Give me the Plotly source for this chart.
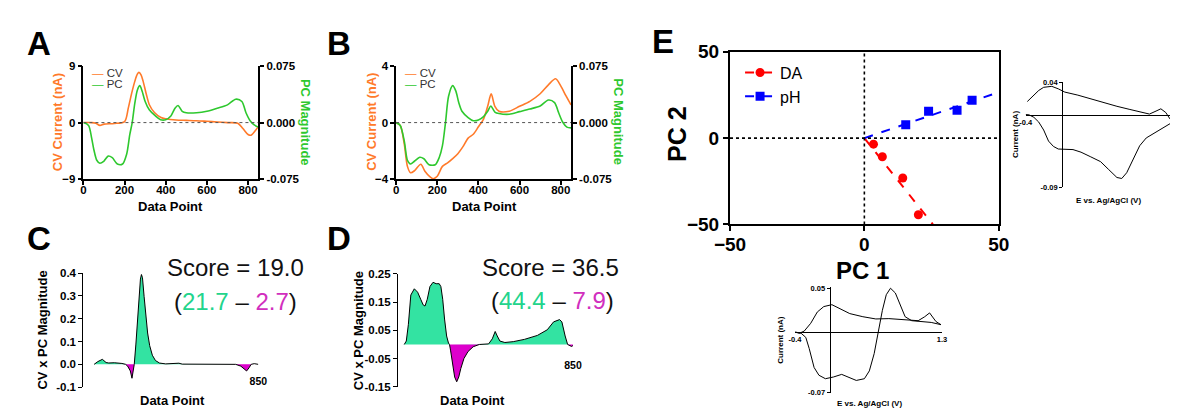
import plotly.graph_objects as go

W, H = 1181, 420
FONT = "Liberation Sans, Arial, sans-serif"
ORANGE = "#FF7A2A"
GREEN = "#2EC82E"
MINT = "#33E3A2"
MAGENTA = "#DD00CC"
SCORE_GREEN = "#22D48C"
SCORE_MAG = "#D12FBE"

# ---------------- Panel A : CV and PC vs data point ----------------
a_cv_x = [0, 40, 60, 80, 100, 150, 200, 218, 234, 250, 262, 270, 280, 290, 305, 321, 345, 377, 400,
          450, 500, 550, 600, 650, 700, 750, 775, 800, 815, 835, 850]
a_cv_y = [0, 0, -0.1, -0.45, -0.25, -0.15, 0.15, 2.3, 4.6, 6.6, 7.7, 8.0, 7.6, 6.6, 4.6, 2.8, 1.6, 0.8, 0.6,
          0.4, 0.35, 0.3, 0.2, 0.1, 0.0, -0.1, -0.95, -1.9, -2.0, -1.3, -0.6]
a_pc_x = [0, 25, 40, 50, 65, 80, 100, 120, 140, 165, 190, 210, 225, 237, 250, 262, 274, 285, 300, 320,
          350, 375, 400, 425, 445, 460, 480, 500, 550, 600, 650, 700, 740, 770, 790, 810, 830, 850]
a_pc_y = [0, -0.0038, -0.0206, -0.035, -0.050, -0.054, -0.051, -0.0445, -0.0466, -0.055, -0.055, -0.042,
          -0.0164, 0.0, 0.026, 0.043, 0.049, 0.042, 0.028, 0.017, 0.0088, 0.0038, 0.0038, 0.0088, 0.019,
          0.0227, 0.015, 0.013, 0.013, 0.015, 0.019, 0.0235, 0.031, 0.028, 0.013, 0.0025, -0.003, -0.006]

# ---------------- Panel B ----------------
b_cv_x = [0, 20, 40, 55, 70, 90, 120, 140, 165, 180, 200, 225, 250, 275, 300, 325, 350, 375, 400, 425,
          445, 462, 480, 500, 550, 600, 650, 700, 740, 775, 800, 825, 850]
b_cv_y = [0, -0.2, -1.55, -3.1, -3.55, -3.4, -2.95, -3.45, -3.85, -3.97, -3.8, -3.1, -2.85, -2.55, -2.2,
          -1.7, -1.1, -0.83, -0.3, 0.25, 1.15, 2.04, 1.15, 0.8, 0.8, 1.15, 1.5, 2.04, 2.67, 3.1, 2.6, 1.9, 1.25]
b_pc_x = [0, 20, 40, 55, 70, 90, 115, 135, 160, 190, 210, 225, 240, 255, 275, 290, 305, 320, 350, 375,
          400, 425, 445, 460, 480, 500, 550, 600, 650, 700, 740, 770, 790, 810, 830, 850]
b_pc_y = [0, -0.0038, -0.025, -0.050, -0.055, -0.051, -0.046, -0.048, -0.056, -0.056, -0.046, -0.031,
          0.0, 0.035, 0.049, 0.042, 0.026, 0.015, 0.0067, 0.0025, 0.0034, 0.008, 0.015, 0.022, 0.014,
          0.012, 0.011, 0.0145, 0.018, 0.022, 0.030, 0.0265, 0.013, 0.0004, -0.006, -0.007]

# ---------------- Panel C : CV x PC ----------------
c_x = [52, 70, 92, 110, 123, 150, 187, 205, 215, 228, 236, 242, 247, 255, 262, 270, 277, 282, 287, 295,
       303, 312, 322, 335, 350, 370, 400, 450, 464, 480, 550, 650, 740, 765, 780, 793, 805, 815, 830, 843, 850]
c_y = [0, 0.012, 0.022, 0.008, 0.006, 0.007, 0.004, 0, -0.008, -0.029, -0.061, -0.029, 0, 0.089, 0.186,
       0.297, 0.374, 0.394, 0.38, 0.297, 0.214, 0.1375, 0.082, 0.040, 0.0167, 0.0056, 0.002, 0.002, 0.005,
       0.001, 0.001, 0.0, 0, -0.008, -0.02, -0.029, -0.015, 0, 0.003, 0.003, 0]
c_score = "Score = 19.0"
c_pos, c_neg = "21.7", "2.7"

# ---------------- Panel D ----------------
d_x = [30, 40, 50, 62, 79, 95, 110, 122, 131, 142, 155, 170, 185, 200, 208, 217, 226, 236, 245, 250,
       255, 265, 275, 285, 295, 305, 320, 340, 365, 395, 420, 440, 458, 472, 482, 495, 519, 560, 614, 677,
       725, 756, 785, 796, 812, 824, 843, 850]
d_y = [0, 0.012, 0.07, 0.175, 0.197, 0.185, 0.160, 0.14, 0.136, 0.16, 0.205, 0.22, 0.215, 0.215, 0.205,
       0.16, 0.09, 0.03, 0.005, 0, -0.02, -0.07, -0.115, -0.132, -0.115, -0.085, -0.05, -0.025, -0.008, 0,
       0.002, 0.002, 0.02, 0.046, 0.03, 0.012, 0.007, 0.01, 0.018, 0.032, 0.052, 0.08, 0.088, 0.08, 0.03,
       0, -0.007, -0.004]
d_score = "Score = 36.5"
d_pos, d_neg = "44.4", "7.9"

# ---------------- Panel E : PC scores ----------------
da_x = [3.4, 6.7, 14.3, 20.1]
da_y = [-3.5, -10.8, -23.1, -44.4]
ph_x = [15.4, 23.9, 34.5, 40.1]
ph_y = [7.7, 15.6, 16.1, 22.0]
da_fit_x = [0, 25.5]
da_fit_y = [0, -50]
ph_fit_x = [0, 50]
ph_fit_y = [0, 26.6]

# PC2 loading (top-right inset): potential (V), current (nA)
pc2_v = [-0.382, -0.328, -0.257, -0.203, -0.114, -0.043, 0.028, 0.171, 0.313, 0.456, 0.599, 0.741, 0.883,
         0.955, 1.027, 1.08, 1.134, 1.18, None,
         1.18, 1.097, 1.027, 0.92, 0.848, 0.777, 0.706, 0.652, 0.599, 0.509, 0.42, 0.313, 0.206, 0.118,
         0.028, -0.043, -0.096, -0.15, -0.203, -0.257, -0.31, -0.364, -0.4]
pc2_i = [0.0161, 0.022, 0.0298, 0.0337, 0.0349, 0.0318, 0.0278, 0.024, 0.0193, 0.0142, 0.0102, 0.0063,
         0.0025, 0.0006, 0.0043, 0.0071, 0.0025, -0.0054, None,
         -0.0113, -0.0171, -0.0218, -0.0289, -0.0386, -0.0562, -0.0719, -0.079, -0.0778, -0.068, -0.0582,
         -0.0523, -0.0465, -0.0433, -0.0433, -0.0426, -0.0394, -0.0328, -0.0191, -0.0093, -0.0034, -0.0003, 0]

# PC1 loading (bottom inset)
pc1_v = [-0.40, -0.33, -0.276, -0.237, -0.18, -0.124, -0.049, 0.045, 0.139, 0.233, 0.308, 0.402, 0.459,
         0.515, 0.565, 0.61, 0.655, 0.704, 0.76, 0.817, 0.873, 0.949, 1.062, 1.175, 1.288,
         1.23, 1.156, 1.10, 1.024, 0.873, 0.685, 0.534, 0.384, 0.233, 0.12, 0.026, -0.068, -0.143, -0.219,
         -0.294, -0.35, -0.39]
pc1_i = [0, -0.0015, -0.0063, -0.019, -0.041, -0.050, -0.054, -0.052, -0.049, -0.053, -0.056, -0.054,
         -0.045, -0.025, 0, 0.025, 0.043, 0.0505, 0.045, 0.030, 0.0176, 0.013, 0.012, 0.011, 0.0084,
         0.012, 0.022, 0.0176, 0.013, 0.0139, 0.0154, 0.015, 0.0176, 0.0212, 0.0267, 0.0315, 0.0293, 0.023,
         0.010, 0.001, -0.0015, -0.0005]


def fx(p):
    return p / W


def fy(p):
    return (H - p) / H


fig = go.Figure()

# Panel A / B lines
for (xs, ys, col, xa, ya) in [
    (a_cv_x, a_cv_y, ORANGE, "x", "y"),
    (a_pc_x, a_pc_y, GREEN, "x", "y2"),
    (b_cv_x, b_cv_y, ORANGE, "x2", "y3"),
    (b_pc_x, b_pc_y, GREEN, "x2", "y4"),
]:
    fig.add_trace(go.Scatter(x=xs, y=ys, mode="lines", xaxis=xa, yaxis=ya, showlegend=False,
                             line=dict(color=col, width=1.6, shape="spline", smoothing=0.8),
                             hoverinfo="skip"))

# Panel C / D filled areas
for (xs, ys, xa, ya) in [(c_x, c_y, "x3", "y5"), (d_x, d_y, "x4", "y6")]:
    pos = [max(v, 0) for v in ys]
    neg = [min(v, 0) for v in ys]
    fig.add_trace(go.Scatter(x=xs, y=pos, mode="lines", fill="tozeroy", fillcolor=MINT,
                             line=dict(width=0, color=MINT), xaxis=xa, yaxis=ya, showlegend=False,
                             hoverinfo="skip"))
    fig.add_trace(go.Scatter(x=xs, y=neg, mode="lines", fill="tozeroy", fillcolor=MAGENTA,
                             line=dict(width=0, color=MAGENTA), xaxis=xa, yaxis=ya, showlegend=False,
                             hoverinfo="skip"))
    fig.add_trace(go.Scatter(x=xs, y=ys, mode="lines", line=dict(color="black", width=1),
                             xaxis=xa, yaxis=ya, showlegend=False, hoverinfo="skip"))

# Panel E
fig.add_trace(go.Scatter(x=da_fit_x, y=da_fit_y, mode="lines", line=dict(color="red", width=2, dash="dash"),
                         xaxis="x5", yaxis="y7", showlegend=False))
fig.add_trace(go.Scatter(x=ph_fit_x, y=ph_fit_y, mode="lines", line=dict(color="blue", width=2, dash="dash"),
                         xaxis="x5", yaxis="y7", showlegend=False))
fig.add_trace(go.Scatter(x=da_x, y=da_y, mode="markers", marker=dict(color="red", size=9, symbol="circle"),
                         xaxis="x5", yaxis="y7", showlegend=False))
fig.add_trace(go.Scatter(x=ph_x, y=ph_y, mode="markers", marker=dict(color="blue", size=9, symbol="square"),
                         xaxis="x5", yaxis="y7", showlegend=False))
fig.add_trace(go.Scatter(x=[None], y=[None], mode="lines+markers", name="DA",
                         line=dict(color="red", width=2, dash="dash"),
                         marker=dict(color="red", size=9, symbol="circle"), xaxis="x5", yaxis="y7"))
fig.add_trace(go.Scatter(x=[None], y=[None], mode="lines+markers", name="pH",
                         line=dict(color="blue", width=2, dash="dash"),
                         marker=dict(color="blue", size=9, symbol="square"), xaxis="x5", yaxis="y7"))

# Insets
fig.add_trace(go.Scatter(x=pc2_v, y=pc2_i, mode="lines", line=dict(color="black", width=1),
                         connectgaps=False, xaxis="x6", yaxis="y8", showlegend=False))
fig.add_trace(go.Scatter(x=pc1_v, y=pc1_i, mode="lines", line=dict(color="black", width=1),
                         xaxis="x7", yaxis="y9", showlegend=False))


def tf(size, weight="bold"):
    return dict(family=FONT, size=size, color="black", weight=weight)


base = dict(showgrid=False, zeroline=False, showline=True, linecolor="black", linewidth=1.5,
            ticks="outside", ticklen=4, tickwidth=1.5, tickcolor="black", tickfont=tf(11.5))

# domains
A_X = [fx(69), fx(248)]
B_X = [fx(389), fx(568)]
AB_Y = [fy(178), fy(59)]
C_X = [fx(69), fx(248)]
C_Y = [fy(397), fy(277)]
D_X = [fx(391), fx(570)]
D_Y = [fy(396.7), fy(277.7)]
E_X = [fx(730.7), fx(1005.7)]
E_Y = [fy(225.7), fy(44)]
I2_X = [fx(1033.3), 1.0]
I2_Y = [fy(186.7), fy(76)]
I1_X = [fx(797.3), fx(947.7)]
I1_Y = [fy(402.7), fy(291.5)]

C_R = [-0.1, 0.4]
D_R = [-0.15, 0.25]
I2_XR = [-0.4, 1.18]
I2_YR = [-0.09, 0.04]
I1_XR = [-0.4, 1.3]
I1_YR = [-0.07, 0.052]


def zero_pos(dom, rng):
    return dom[0] + (0 - rng[0]) / (rng[1] - rng[0]) * (dom[1] - dom[0])


layout = dict(
    width=W, height=H, margin=dict(l=0, r=0, t=0, b=0),
    paper_bgcolor="white", plot_bgcolor="white",
    font=dict(family=FONT, color="black"),
    showlegend=True,
    legend=dict(x=fx(741), y=fy(48), xanchor="left", yanchor="top", bgcolor="rgba(0,0,0,0)",
                font=dict(family=FONT, size=16, color="black"), itemwidth=30, tracegroupgap=0),
    # A
    xaxis=dict(base, domain=A_X, range=[0, 850], anchor="y", tickvals=[0, 200, 400, 600, 800],
               ticklabelstandoff=-5),
    yaxis=dict(base, domain=AB_Y, range=[-9, 9], anchor="x", tickvals=[-9, 0, 9]),
    yaxis2=dict(base, overlaying="y", side="right", anchor="x", range=[-0.075, 0.075],
                tickvals=[-0.075, 0, 0.075], ticktext=["-0.075", "0.000", "0.075"]),
    # B
    xaxis2=dict(base, domain=B_X, range=[0, 850], anchor="y3", tickvals=[0, 200, 400, 600, 800],
                ticklabelstandoff=-5),
    yaxis3=dict(base, domain=AB_Y, range=[-4, 4], anchor="x2", tickvals=[-4, 0, 4]),
    yaxis4=dict(base, overlaying="y3", side="right", anchor="x2", range=[-0.075, 0.075],
                tickvals=[-0.075, 0, 0.075], ticktext=["-0.075", "0.000", "0.075"]),
    # C
    xaxis3=dict(base, domain=C_X, range=[0, 850], anchor="free", position=zero_pos(C_Y, C_R),
                showline=False, tickcolor="rgba(0,0,0,0)", ticklen=7, tickvals=[850], ticktext=["850"],
                tickfont=tf(10.5)),
    yaxis5=dict(base, domain=C_Y, range=C_R, anchor="x3", linewidth=1.2, tickwidth=1.2,
                tickvals=[-0.1, 0, 0.1, 0.2, 0.3, 0.4],
                ticktext=["-0.1", "0.0", "0.1", "0.2", "0.3", "0.4"], tickfont=tf(11.5)),
    # D
    xaxis4=dict(base, domain=D_X, range=[0, 850], anchor="free", position=zero_pos(D_Y, D_R),
                showline=False, tickcolor="rgba(0,0,0,0)", ticklen=11, tickvals=[850], ticktext=["850"],
                tickfont=tf(10.5)),
    yaxis6=dict(base, domain=D_Y, range=D_R, anchor="x4", linewidth=1.2, tickwidth=1.2,
                tickvals=[-0.15, -0.05, 0.05, 0.15, 0.25],
                ticktext=["-0.15", "-0.05", "0.05", "0.15", "0.25"], tickfont=tf(11.5)),
    # E
    xaxis5=dict(base, domain=E_X, range=[-50, 50], anchor="y7", tickvals=[-50, 0, 50], mirror=True,
                linewidth=2, tickwidth=2, ticklen=5, tickfont=tf(19), ticklabelstandoff=-3),
    yaxis7=dict(base, domain=E_Y, range=[-50, 50], anchor="x5", tickvals=[-50, 0, 50], mirror=True,
                linewidth=2, tickwidth=2, ticklen=5, tickfont=tf(19)),
    # inset PC2
    xaxis6=dict(base, domain=I2_X, range=I2_XR, anchor="free", position=zero_pos(I2_Y, I2_YR),
                linewidth=1, ticks="", tickvals=[-0.4], ticktext=["-0.4"], tickfont=tf(7.5)),
    yaxis8=dict(base, domain=I2_Y, range=I2_YR, anchor="free", position=zero_pos(I2_X, I2_XR),
                linewidth=1, tickwidth=1, ticklen=3, tickvals=[-0.09, 0.04], ticktext=["-0.09", "0.04"],
                tickfont=tf(7.5)),
    # inset PC1
    xaxis7=dict(base, domain=I1_X, range=I1_XR, anchor="free", position=zero_pos(I1_Y, I1_YR),
                linewidth=1, ticks="", tickvals=[-0.4, 1.3], ticktext=["-0.4", "1.3"], tickfont=tf(7.5)),
    yaxis9=dict(base, domain=I1_Y, range=I1_YR, anchor="free", position=zero_pos(I1_X, I1_XR),
                linewidth=1, tickwidth=1, ticklen=3, tickvals=[-0.07, 0.05], ticktext=["-0.07", "0.05"],
                tickfont=tf(7.5)),
)

shapes = [
    dict(type="line", xref="x", yref="y", x0=0, x1=850, y0=0, y1=0,
         line=dict(color="#555", width=1, dash="dot")),
    dict(type="line", xref="x2", yref="y3", x0=0, x1=850, y0=0, y1=0,
         line=dict(color="#555", width=1, dash="dot")),
    dict(type="line", xref="x5", yref="y7", x0=0, x1=0, y0=-50, y1=50,
         line=dict(color="black", width=1.6, dash="dot")),
    dict(type="line", xref="x5", yref="y7", x0=-50, x1=50, y0=0, y1=0,
         line=dict(color="black", width=1.6, dash="dot")),
]
layout["shapes"] = shapes


def ann(text, x, y, size, color="black", weight="bold", angle=0, xanchor="center"):
    return dict(text=text, x=fx(x), y=fy(y), xref="paper", yref="paper", showarrow=False,
                textangle=angle, xanchor=xanchor, yanchor="middle",
                font=dict(family=FONT, size=size, color=color, weight=weight))


annotations = [
    ann("A", 23.5, 35, 33), ann("B", 330.5, 35, 33), ann("C", 23.5, 240.5, 33),
    ann("D", 330.5, 240.5, 33), ann("E", 662.5, 33.5, 33),
    # A
    ann("CV Current (nA)", 42, 118, 13, ORANGE, angle=-90),
    ann("PC Magnitude", 297, 118, 13, GREEN, angle=90),
    ann("Data Point", 158, 207, 13),
    ann('<span style="color:%s">—</span> CV' % ORANGE, 76, 66.7, 11.5, "#333", "normal", xanchor="left"),
    ann('<span style="color:%s">—</span> PC' % GREEN, 76, 77.5, 11.5, "#333", "normal", xanchor="left"),
    # B
    ann("CV Current (nA)", 363, 118, 13, ORANGE, angle=-90),
    ann("PC Magnitude", 617, 118, 13, GREEN, angle=90),
    ann("Data Point", 479, 207, 13),
    ann('<span style="color:%s">—</span> CV' % ORANGE, 396, 66.7, 11.5, "#333", "normal", xanchor="left"),
    ann('<span style="color:%s">—</span> PC' % GREEN, 396, 77.5, 11.5, "#333", "normal", xanchor="left"),
    # C
    ann("CV x PC Magnitude", 27, 337, 13, angle=-90),
    ann("Data Point", 160, 411.5, 13),
    ann(c_score, 225, 271, 24, "#111", "normal"),
    ann('(<span style="color:%s">%s</span> – <span style="color:%s">%s</span>)'
        % (SCORE_GREEN, c_pos, SCORE_MAG, c_neg), 225, 307, 24, "#111", "normal"),
    # D
    ann("CV x PC Magnitude", 350, 337, 13, angle=-90),
    ann("Data Point", 467, 411.5, 13),
    ann(d_score, 547.5, 271, 24, "#111", "normal"),
    ann('(<span style="color:%s">%s</span> – <span style="color:%s">%s</span>)'
        % (SCORE_GREEN, d_pos, SCORE_MAG, d_neg), 549, 306, 24, "#111", "normal"),
    # E
    ann("PC 2", 677, 131, 25, angle=-90),
    ann("PC 1", 866, 274, 24),
    ann("Current (nA)", 1023, 131, 8, angle=-90),
    ann("E vs. Ag/AgCl (V)", 1118, 200, 8),
    ann("Current (nA)", 783, 348, 8, angle=-90),
    ann("E vs. Ag/AgCl (V)", 873, 414, 8),
]
layout["annotations"] = annotations

fig.update_layout(layout)
fig.write_html("out.html")
